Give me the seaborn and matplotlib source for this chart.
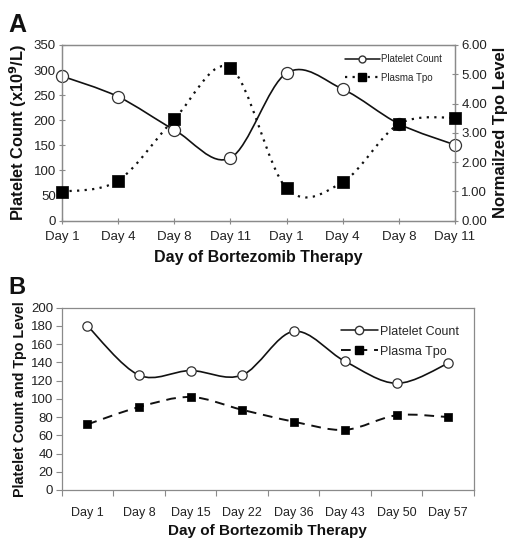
import numpy as np
import matplotlib
matplotlib.use("Agg")
import matplotlib.pyplot as plt
from matplotlib.path import Path
from matplotlib.patches import PathPatch
from matplotlib.lines import Line2D
import seaborn as sns

# ---- data ----
days_a = ["Day 1", "Day 4", "Day 8", "Day 11", "Day 1", "Day 4", "Day 8", "Day 11"]
platelet_a = [288, 247, 181, 125, 294, 262, 193, 151]
tpo_a = [0.99, 1.37, 3.47, 5.22, 1.11, 1.32, 3.30, 3.52]

days_b = ["Day 1", "Day 8", "Day 15", "Day 22", "Day 36", "Day 43", "Day 50", "Day 57"]
platelet_b = [180, 126, 131, 126, 174, 141, 117, 139]
tpo_b = [72, 91, 102, 88, 75, 66, 82, 80]

sns.set_theme(style="white")
plt.rcParams['font.family'] = ['Liberation Sans', 'DejaVu Sans']

INK = "#111111"
FRAME = "#8a8a8a"


def smooth_path(x, y):
    # Excel-style smoothed line (Catmull-Rom as cubic Bezier)
    x = np.asarray(x, float)
    y = np.asarray(y, float)
    n = len(x)
    verts = [(x[0], y[0])]
    codes = [Path.MOVETO]
    for i in range(n - 1):
        a = i - 1 if i > 0 else i
        d = i + 2 if i + 2 < n else i + 1
        c1 = (x[i] + (x[i + 1] - x[a]) / 6, y[i] + (y[i + 1] - y[a]) / 6)
        c2 = (x[i + 1] - (x[d] - x[i]) / 6, y[i + 1] - (y[d] - y[i]) / 6)
        verts += [c1, c2, (x[i + 1], y[i + 1])]
        codes += [Path.CURVE4] * 3
    return Path(verts, codes)


def style_frame(ax):
    for side in ax.spines:
        ax.spines[side].set_color(FRAME)
        ax.spines[side].set_linewidth(0.9)


fig = plt.figure(figsize=(5.11, 5.40), dpi=100)

# ======================
# Panel A
# ======================
ax = fig.add_axes([0.1213, 0.5913, 0.7691, 0.3254])
pos_a = np.arange(len(days_a))

ax.add_patch(PathPatch(smooth_path(pos_a, platelet_a), fill=False,
                       edgecolor=INK, lw=1.2, zorder=2))
sns.scatterplot(x=pos_a, y=platelet_a, marker="o", s=75, color="white",
                edgecolor="#333333", linewidth=0.9, ax=ax, zorder=3, clip_on=False)
ax.set_xlim(0, 7)
ax.set_ylim(0, 350)
ax.set_yticks(range(0, 351, 50))
ax.set_xticks(pos_a)
ax.set_xticklabels(days_a)
ax.tick_params(axis="both", direction="inout", length=5, width=0.8, color=FRAME,
               labelsize=9.5, labelcolor="#222222", pad=2, left=True, bottom=True)
ax.tick_params(axis="x", pad=5)
ax.set_xlabel("Day of Bortezomib Therapy", fontsize=11.5, fontweight="bold",
              color=INK, labelpad=5)
ax.set_ylabel("Platelet Count (x10$^\\mathbf{9}$/L)", fontsize=11.8, fontweight="bold",
              color=INK, labelpad=3)
style_frame(ax)

ax2 = ax.twinx()
ax2.add_patch(PathPatch(smooth_path(pos_a, tpo_a), fill=False, edgecolor=INK,
                        lw=1.6, linestyle=(0, (1, 2.4)), zorder=2))
sns.scatterplot(x=pos_a, y=tpo_a, marker="s", s=70, color="black",
                edgecolor="black", linewidth=0.5, ax=ax2, zorder=3, clip_on=False)
ax2.set_ylim(0, 6)
ax2.set_yticks(range(0, 7))
ax2.set_yticklabels([f"{v:.2f}" for v in range(0, 7)])
ax2.tick_params(axis="y", direction="inout", length=5, width=0.8, color=FRAME,
                labelsize=9.5, labelcolor="#222222", pad=2, right=True)
ax2.set_ylabel("Normailzed Tpo Level", fontsize=12, fontweight="bold",
               color=INK, labelpad=4)
ax2.grid(False)
ax.grid(False)
style_frame(ax2)

handles_a = [
    Line2D([], [], color=INK, lw=1.1, marker="o", ms=5, mfc="white", mec="#333333"),
    Line2D([], [], color=INK, lw=1.6, linestyle=(0, (1, 2.4)), marker="s", ms=6,
           mfc="black", mec="black"),
]
ax2.legend(handles_a, ["Platelet Count", "Plasma Tpo"], loc="upper right",
           bbox_to_anchor=(0.985, 0.985), frameon=False, fontsize=7,
           handlelength=3.6, handletextpad=0.15, labelspacing=0.85, borderpad=0.2)

fig.text(0.016, 0.94, "A", fontsize=18, fontweight="bold", color=INK)

# ======================
# Panel B
# ======================
bx = fig.add_axes([0.1207, 0.0926, 0.8069, 0.3376])
pos_b = np.arange(len(days_b))

bx.add_patch(PathPatch(smooth_path(pos_b, platelet_b), fill=False,
                       edgecolor=INK, lw=1.2, zorder=2))
bx.add_patch(PathPatch(smooth_path(pos_b, tpo_b), fill=False, edgecolor=INK,
                       lw=1.4, linestyle=(0, (5, 3.5)), zorder=2))
sns.scatterplot(x=pos_b, y=platelet_b, marker="o", s=45, color="white",
                edgecolor="#333333", linewidth=0.9, ax=bx, zorder=3)
sns.scatterplot(x=pos_b, y=tpo_b, marker="s", s=32, color="black",
                edgecolor="black", linewidth=0.5, ax=bx, zorder=3)
bx.set_xlim(-0.5, 7.5)
bx.set_ylim(0, 200)
bx.set_yticks(range(0, 201, 20))
bx.set_xticks(pos_b)
bx.set_xticklabels(days_b)
bx.set_xticks(np.arange(-0.5, 8, 1), minor=True)
bx.tick_params(axis="x", which="major", length=0, labelsize=9, pad=12,
               labelcolor="#222222")
bx.tick_params(axis="x", which="minor", direction="out", length=4, width=0.8,
               color=FRAME, bottom=True)
bx.tick_params(axis="y", direction="out", length=4, width=0.8, color=FRAME,
               labelsize=9.5, labelcolor="#222222", pad=2, left=True)
bx.set_xlabel("Day of Bortezomib Therapy", fontsize=11, fontweight="bold",
              color=INK, labelpad=4)
bx.set_ylabel("Platelet Count and Tpo Level", fontsize=10.3, fontweight="bold",
              color=INK, labelpad=3)
bx.grid(False)
style_frame(bx)

handles_b = [
    Line2D([], [], color=INK, lw=1.1, marker="o", ms=6, mfc="white", mec="#333333"),
    Line2D([], [], color=INK, lw=1.4, linestyle=(0, (5, 3.5)), marker="s", ms=5.5,
           mfc="black", mec="black"),
]
bx.legend(handles_b, ["Platelet Count", "Plasma Tpo"], loc="upper right",
          bbox_to_anchor=(0.985, 0.95), frameon=False, fontsize=9,
          handlelength=2.9, handletextpad=0.2, labelspacing=0.65, borderpad=0.2)

fig.text(0.016, 0.455, "B", fontsize=17, fontweight="bold", color=INK)

fig.savefig("out.png", dpi=100)
